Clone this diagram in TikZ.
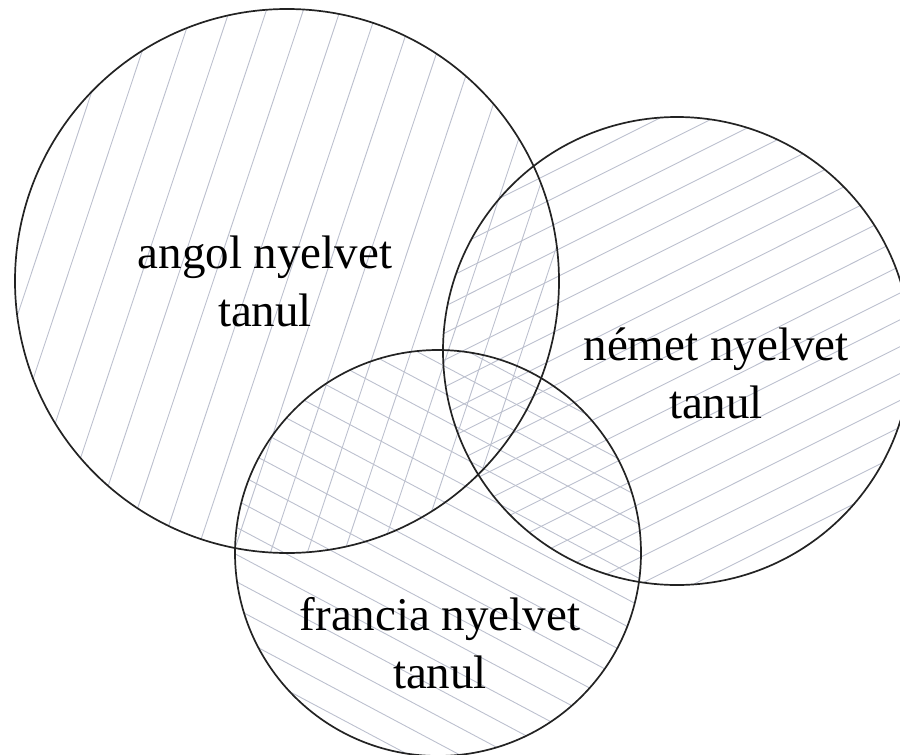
\documentclass[tikz,border=0pt]{standalone}
\usepackage{fontspec}
\setmainfont{Liberation Serif}
\definecolor{hatchc}{RGB}{188,192,206}
\definecolor{ringc}{RGB}{35,35,35}
\begin{document}
\begin{tikzpicture}[x=1pt,y=-1pt,
  hatch/.style={draw=hatchc, line width=0.9pt},
  ring/.style={circle, draw=ringc, line width=1.7pt, inner sep=0pt, outer sep=0pt},
  lbl/.style={font=\fontsize{47}{58}\selectfont, align=center, inner sep=0pt, text=black}]
\useasboundingbox (0,0) rectangle (900,755);
\clip (0,0) rectangle (900,755);
\coordinate (cA) at (287,281);
\coordinate (cN) at (677,351);
\coordinate (cF) at (438,553);
% hatching of A
\begin{scope}
  \clip (cA) circle[radius=272];
  \begin{scope}[shift={(cA)}, rotate=71.6]
    \foreach \k in {-9,...,9} \draw[hatch] (-320,\k*35) -- (320,\k*35);
  \end{scope}
\end{scope}
% hatching of N
\begin{scope}
  \clip (cN) circle[radius=234];
  \begin{scope}[shift={(cN)}, rotate=26.6]
    \foreach \k in {-11,...,11} \draw[hatch] (-280,\k*24) -- (280,\k*24);
  \end{scope}
\end{scope}
% hatching of F
\begin{scope}
  \clip (cF) circle[radius=203];
  \begin{scope}[shift={(cF)}, rotate=-28]
    \foreach \k in {-10,...,10} \draw[hatch] (-250,\k*24) -- (250,\k*24);
  \end{scope}
\end{scope}
% circle outlines as named nodes, on top of the hatching
\node[ring, minimum size=544] (A) at (cA) {};
\node[ring, minimum size=468] (N) at (cN) {};
\node[ring, minimum size=406] (F) at (cF) {};
% labels
\node[lbl] (la) at (265,281) {angol nyelvet\\tanul};
\node[lbl] (ln) at (716,373) {német nyelvet\\tanul};
\node[lbl] (lf) at (440,643) {francia nyelvet\\tanul};
\end{tikzpicture}
\end{document}
